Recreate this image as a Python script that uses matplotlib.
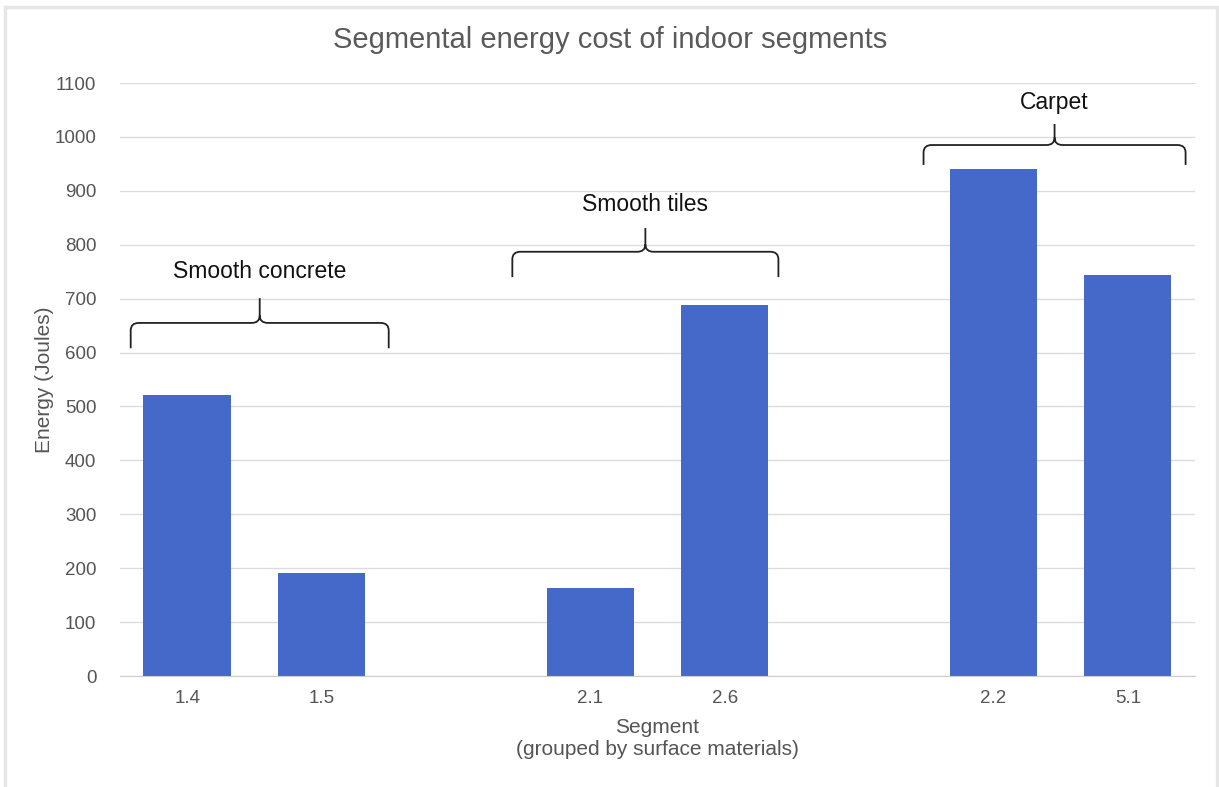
import matplotlib
matplotlib.use('Agg')
import matplotlib.pyplot as plt
from matplotlib.path import Path
from matplotlib.patches import PathPatch, Rectangle

plt.rcParams['font.family'] = ['Liberation Sans', 'DejaVu Sans']

# segments, with blank slots between the surface groups
segments = ['1.4', '1.5', '', '2.1', '2.6', '', '2.2', '5.1']
energy = [522, 192, None, 164, 688, None, 940, 743]

groups = ['Smooth concrete', 'Smooth tiles', 'Carpet']
# brace span (slot units) and heights (tip bottom, bar line, cusp top, label)
brace_x = [(-0.42, 1.50), (2.42, 4.40), (5.48, 7.43)]
brace_y = [(608, 655, 701, 751), (740, 787, 831, 874), (948, 985, 1024, 1063)]

bar_color = '#4469c8'

fig = plt.figure(figsize=(12.19, 7.87), dpi=100)
ax = fig.add_axes([0.0984, 0.141, 0.8819, 0.7535])

xs = [i for i, e in enumerate(energy) if e is not None]
vals = [e for e in energy if e is not None]
ax.bar(xs, vals, width=0.65, color=bar_color, zorder=3)

ax.set_xlim(-0.5, 7.5)
ax.set_ylim(0, 1100)
ax.set_yticks(range(0, 1101, 100))
ax.set_xticks(range(len(segments)))
ax.set_xticklabels(segments)
ax.tick_params(axis='both', length=0, labelsize=13.5, labelcolor='#555555')
ax.tick_params(axis='x', pad=10)
ax.tick_params(axis='y', pad=17)
ax.grid(axis='y', color='#dcdcdc', linewidth=1, zorder=0)
for s in ['top', 'right', 'left']:
    ax.spines[s].set_visible(False)
ax.spines['bottom'].set_color('#cccccc')
ax.spines['bottom'].set_zorder(4)

ax.set_ylabel('Energy (Joules)', fontsize=15, color='#555555', labelpad=0)
ax.set_xlabel('Segment\n(grouped by surface materials)', fontsize=15,
              color='#555555', labelpad=8, linespacing=1.2)
fig.text(610 / 1219, 1 - 40 / 787, 'Segmental energy cost of indoor segments',
         ha='center', va='center', fontsize=21, color='#5a5a5a')


def brace(ax, x0, x1, ylo, yh, ytop, rx=0.06, ry=14):
    xm = (x0 + x1) / 2
    verts = [(x0, ylo), (x0, yh - ry), (x0, yh), (x0 + rx, yh),
             (xm - rx, yh), (xm, yh), (xm, yh + ry), (xm, ytop),
             (xm, yh + ry), (xm, yh), (xm + rx, yh),
             (x1 - rx, yh), (x1, yh), (x1, yh - ry), (x1, ylo)]
    codes = [Path.MOVETO, Path.LINETO, Path.CURVE3, Path.CURVE3,
             Path.LINETO, Path.CURVE3, Path.CURVE3, Path.LINETO,
             Path.MOVETO, Path.CURVE3, Path.CURVE3,
             Path.LINETO, Path.CURVE3, Path.CURVE3, Path.LINETO]
    ax.add_patch(PathPatch(Path(verts, codes), fill=False, lw=1.3,
                           edgecolor='#222222', zorder=5, clip_on=False))


for name, (x0, x1), (ylo, yh, ytop, ytxt) in zip(groups, brace_x, brace_y):
    brace(ax, x0, x1, ylo, yh, ytop)
    ax.text((x0 + x1) / 2, ytxt, name, ha='center', va='center',
            fontsize=16.5, color='#111111', zorder=5)

# light frame around the chart
fig.patches.append(Rectangle((5 / 1219, -0.05), 1212 / 1219, 0.05 + 780 / 787,
                             transform=fig.transFigure, fill=False,
                             edgecolor='#e6e6e6', linewidth=2.5))

fig.savefig('out.png', dpi=100)
